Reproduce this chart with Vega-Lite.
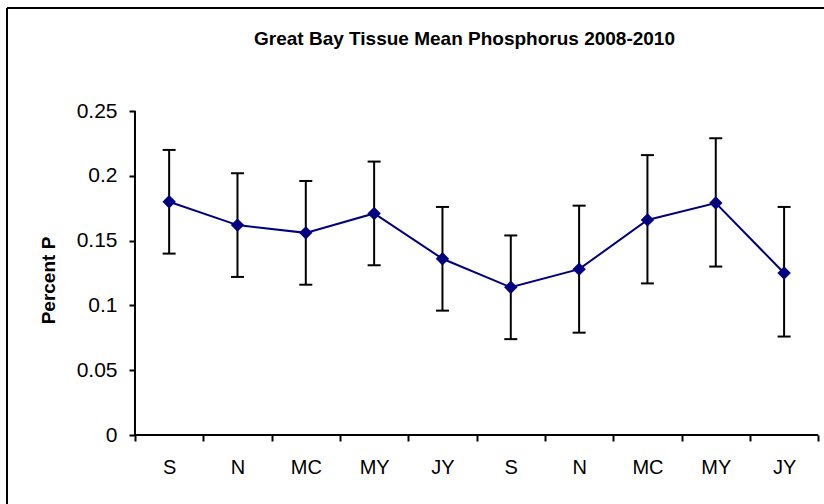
{
  "$schema": "https://vega.github.io/schema/vega-lite/v6.json",
  "width": 817,
  "height": 496,
  "autosize": "none",
  "padding": {"left": 7, "top": 8, "right": 0, "bottom": 0},
  "background": "white",
  "config": {
    "view": {"stroke": null},
    "font": "Liberation Sans",
    "axis": {
      "grid": false,
      "domain": false,
      "labelFont": "Liberation Sans",
      "labelColor": "black",
      "labelFontSize": 20,
      "tickColor": "black",
      "tickWidth": 2,
      "titleFont": "Liberation Sans",
      "titleColor": "black"
    }
  },
  "title": {
    "text": "Great Bay Tissue Mean Phosphorus 2008-2010",
    "font": "Liberation Sans",
    "fontSize": 19,
    "fontWeight": "bold",
    "color": "black",
    "anchor": "middle",
    "frame": "group",
    "offset": 0,
    "dx": 49,
    "dy": 42
  },
  "data": {
    "values": [
      {"idx": 1, "month": "S", "mean": 0.180, "lo": 0.140, "hi": 0.220},
      {"idx": 2, "month": "N", "mean": 0.162, "lo": 0.122, "hi": 0.202},
      {"idx": 3, "month": "MC", "mean": 0.156, "lo": 0.116, "hi": 0.196},
      {"idx": 4, "month": "MY", "mean": 0.171, "lo": 0.131, "hi": 0.211},
      {"idx": 5, "month": "JY", "mean": 0.136, "lo": 0.096, "hi": 0.176},
      {"idx": 6, "month": "S", "mean": 0.114, "lo": 0.074, "hi": 0.154},
      {"idx": 7, "month": "N", "mean": 0.128, "lo": 0.079, "hi": 0.177},
      {"idx": 8, "month": "MC", "mean": 0.166, "lo": 0.117, "hi": 0.216},
      {"idx": 9, "month": "MY", "mean": 0.179, "lo": 0.130, "hi": 0.229},
      {"idx": 10, "month": "JY", "mean": 0.125, "lo": 0.076, "hi": 0.176}
    ]
  },
  "resolve": {"scale": {"x": "shared", "y": "shared"}, "axis": {"x": "independent", "y": "independent"}},
  "layer": [
    {
      "data": {"values": [{}]},
      "mark": {"type": "rule", "color": "black", "strokeWidth": 2},
      "encoding": {
        "x": {"datum": -1.373, "type": "quantitative", "scale": {"domain": [-1.373, 10.584], "nice": false, "zero": false}, "axis": null},
        "y": {"datum": -0.0532, "type": "quantitative", "scale": {"domain": [-0.0532, 0.3295], "nice": false, "zero": false}, "axis": null},
        "y2": {"datum": 0.3295}
      }
    },
    {
      "data": {"values": [{}]},
      "mark": {"type": "rule", "color": "black", "strokeWidth": 2},
      "encoding": {
        "x": {"datum": -1.373, "type": "quantitative", "scale": {"domain": [-1.373, 10.584], "nice": false, "zero": false}, "axis": null},
        "x2": {"datum": 10.584},
        "y": {"datum": 0.3295, "type": "quantitative", "scale": {"domain": [-0.0532, 0.3295], "nice": false, "zero": false}, "axis": null}
      }
    },
    {
      "data": {"values": [{}]},
      "mark": {"type": "rule", "color": "black", "strokeWidth": 2},
      "encoding": {
        "x": {"datum": 0.5, "type": "quantitative", "scale": {"domain": [-1.373, 10.584], "nice": false, "zero": false}, "axis": null},
        "y": {"datum": 0, "type": "quantitative", "scale": {"domain": [-0.0532, 0.3295], "nice": false, "zero": false}, "axis": null},
        "y2": {"datum": 0.25}
      }
    },
    {
      "data": {"values": [{}]},
      "mark": {"type": "rule", "color": "black", "strokeWidth": 2},
      "encoding": {
        "x": {
          "datum": 0.5, "type": "quantitative",
          "scale": {"domain": [-1.373, 10.584], "nice": false, "zero": false},
          "axis": {
            "orient": "bottom",
            "offset": -69,
            "values": [0.5, 1.5, 2.5, 3.5, 4.5, 5.5, 6.5, 7.5, 8.5, 9.5, 10.5],
            "labels": false,
            "tickSize": 6,
            "title": null
          }
        },
        "x2": {"datum": 10.5},
        "y": {"datum": 0, "type": "quantitative", "scale": {"domain": [-0.0532, 0.3295], "nice": false, "zero": false}, "axis": null}
      }
    },
    {
      "mark": {"type": "rule", "color": "black", "strokeWidth": 2},
      "encoding": {
        "x": {"field": "idx", "type": "quantitative", "scale": {"domain": [-1.373, 10.584], "nice": false, "zero": false}, "axis": null},
        "y": {"field": "lo", "type": "quantitative", "scale": {"domain": [-0.0532, 0.3295], "nice": false, "zero": false}, "axis": null},
        "y2": {"field": "hi"}
      }
    },
    {
      "mark": {"type": "tick", "orient": "horizontal", "color": "black", "size": 13, "thickness": 2, "opacity": 1},
      "encoding": {
        "x": {"field": "idx", "type": "quantitative", "scale": {"domain": [-1.373, 10.584], "nice": false, "zero": false}, "axis": null},
        "y": {"field": "hi", "type": "quantitative", "scale": {"domain": [-0.0532, 0.3295], "nice": false, "zero": false}, "axis": null}
      }
    },
    {
      "mark": {"type": "tick", "orient": "horizontal", "color": "black", "size": 13, "thickness": 2, "opacity": 1},
      "encoding": {
        "x": {"field": "idx", "type": "quantitative", "scale": {"domain": [-1.373, 10.584], "nice": false, "zero": false}, "axis": null},
        "y": {"field": "lo", "type": "quantitative", "scale": {"domain": [-0.0532, 0.3295], "nice": false, "zero": false}, "axis": null}
      }
    },
    {
      "mark": {"type": "line", "color": "#000080", "strokeWidth": 2},
      "encoding": {
        "x": {
          "field": "idx", "type": "quantitative",
          "scale": {"domain": [-1.373, 10.584], "nice": false, "zero": false},
          "axis": {
            "orient": "bottom",
            "offset": -69,
            "values": [1, 2, 3, 4, 5, 6, 7, 8, 9, 10],
            "labelExpr": "['S','N','MC','MY','JY','S','N','MC','MY','JY'][datum.value - 1]",
            "ticks": false,
            "tickSize": 0,
            "labelPadding": 22,
            "labelFlush": false,
            "title": null
          }
        },
        "y": {
          "field": "mean", "type": "quantitative",
          "scale": {"domain": [-0.0532, 0.3295], "nice": false, "zero": false},
          "axis": {
            "orient": "left",
            "offset": -128,
            "values": [0, 0.05, 0.1, 0.15, 0.2, 0.25],
            "format": "~g",
            "tickSize": 6,
            "labelFontSize": 21,
            "labelPadding": 12,
            "labelFlush": false,
            "title": "Percent P",
            "titleFontSize": 19,
            "titleFontWeight": "bold",
            "titlePadding": 18,
            "titleY": 272
          }
        }
      }
    },
    {
      "mark": {"type": "point", "shape": "diamond", "filled": true, "color": "#000080", "size": 180, "opacity": 1},
      "encoding": {
        "x": {"field": "idx", "type": "quantitative", "scale": {"domain": [-1.373, 10.584], "nice": false, "zero": false}, "axis": null},
        "y": {"field": "mean", "type": "quantitative", "scale": {"domain": [-0.0532, 0.3295], "nice": false, "zero": false}, "axis": null}
      }
    }
  ]
}
